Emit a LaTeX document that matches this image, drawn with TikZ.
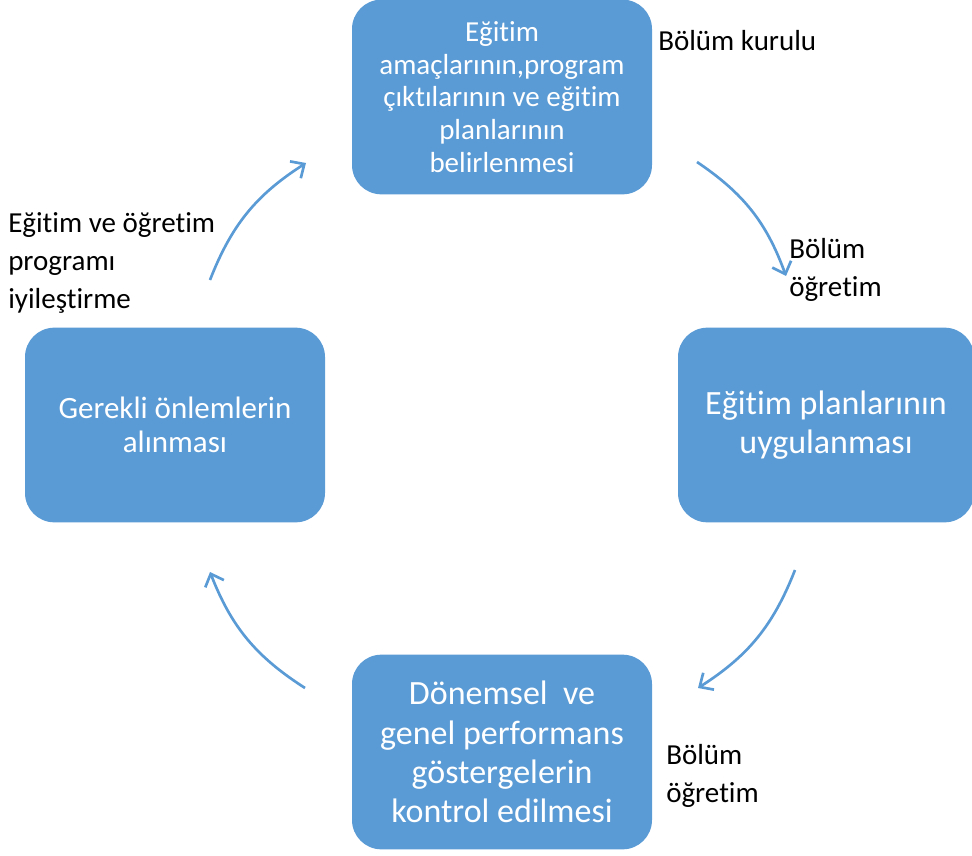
\documentclass[tikz,border=0pt]{standalone}
\usepackage{fontspec}
\setmainfont{Carlito}[Ligatures={NoCommon,NoContextual}, Contextuals=NoAlternate]
\usetikzlibrary{positioning, arrows.meta}
\definecolor{boxblue}{HTML}{5B9BD5}

\begin{document}
\begin{tikzpicture}[
  x=0.75pt, y=-0.75pt,
  box/.style={rectangle, rounded corners=22pt, fill=boxblue, text=white,
    align=center, inner sep=0pt, minimum width=225pt, minimum height=146pt},
  smalltext/.style={font=\fontsize{21.75}{24.5}\selectfont},
  bigtext/.style={font=\fontsize{25.5}{29.5}\selectfont},
  midtext/.style={font=\fontsize{23.25}{25.5}\selectfont},
  note/.style={align=left, inner sep=0pt, anchor=west,
    font=\fontsize{21.75}{28.8}\selectfont},
  cycarrow/.style={draw=boxblue, line width=2pt,
    -{Straight Barb[length=8pt, width=15pt]}, bend left=18}
]
\useasboundingbox (0,0) rectangle (972,856);

% the four steps
\node[box, smalltext] (plan) at (502,97)
  {Eğitim\\amaçlarının,program\\çıktılarının ve eğitim\\planlarının\\belirlenmesi};
\node[box, bigtext, minimum width=222pt] (apply) at (826,425)
  {Eğitim planlarının\\uygulanması};
\node[box, bigtext] (check) at (502,752)
  {Dönemsel~ ve\\genel performans\\göstergelerin\\kontrol edilmesi};
\node[box, midtext] (act) at (175,425)
  {Gerekli önlemlerin\\alınması};

% who does it
\node[note] (council) at (658,41) {Bölüm kurulu};
\node[note] (staffa) at (789,270) {Bölüm\\öğretim};
\node[note] (staffb) at (666,776) {Bölüm\\öğretim};
\node[note] (improve) at (8,263) {Eğitim ve öğretim\\programı\\iyileştirme};

% arrow ends
\coordinate (a1s) at (697,162);
\coordinate (a1e) at (786,276);
\coordinate (a2s) at (795,570);
\coordinate (a2e) at (698,688);
\coordinate (a3s) at (305,688);
\coordinate (a3e) at (210,572);
\coordinate (a4s) at (210,280);
\coordinate (a4e) at (306,163);

\draw[cycarrow] (a1s) to (a1e);
\draw[cycarrow] (a2s) to (a2e);
\draw[cycarrow] (a3s) to (a3e);
\draw[cycarrow] (a4s) to (a4e);

\end{tikzpicture}
\end{document}
